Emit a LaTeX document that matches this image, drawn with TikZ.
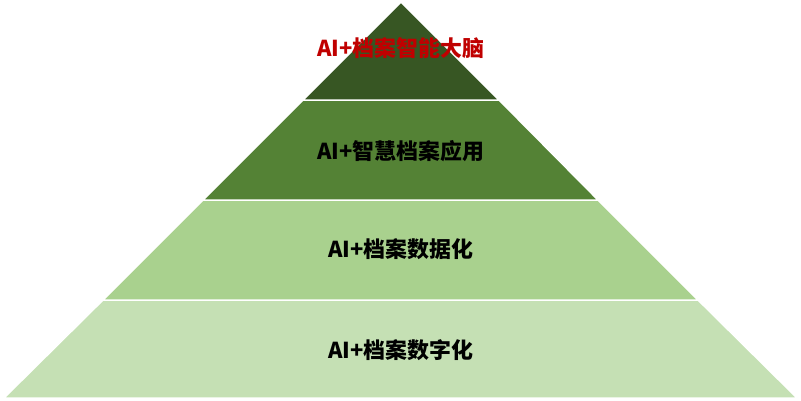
\documentclass[tikz,border=0pt]{standalone}
\usepackage{fontspec}
\newfontfamily\cjk{Noto Sans CJK SC}
\definecolor{l1}{HTML}{375623}
\definecolor{l2}{HTML}{548235}
\definecolor{l3}{HTML}{A9D18E}
\definecolor{l4}{HTML}{C5E0B4}
\definecolor{txtred}{HTML}{C00000}
\begin{document}
\begin{tikzpicture}[x=1bp,y=-1bp,
  layer/.style={draw=white,line width=1.5bp},
  lab/.style={font=\cjk\bfseries\fontsize{22}{26}\selectfont}]
\useasboundingbox (0,0) rectangle (801,400);
\fill[white] (0,0) rectangle (801,400);
\fill[layer,fill=l4] (103,300) -- (698,300) -- (797,398) -- (4,398) -- cycle;
\fill[layer,fill=l3] (203,200) -- (598,200) -- (698,300) -- (103,300) -- cycle;
\fill[layer,fill=l2] (303,100) -- (499,100) -- (598,200) -- (203,200) -- cycle;
\fill[layer,fill=l1] (401,2) -- (499,100) -- (303,100) -- cycle;
\node[lab,text=txtred] (t1) at (401,48) {AI+档案智能大脑};
\node[lab] (t2) at (401,151) {AI+智慧档案应用};
\node[lab] (t3) at (401,249) {AI+档案数据化};
\node[lab] (t4) at (401,350) {AI+档案数字化};
\end{tikzpicture}
\end{document}
